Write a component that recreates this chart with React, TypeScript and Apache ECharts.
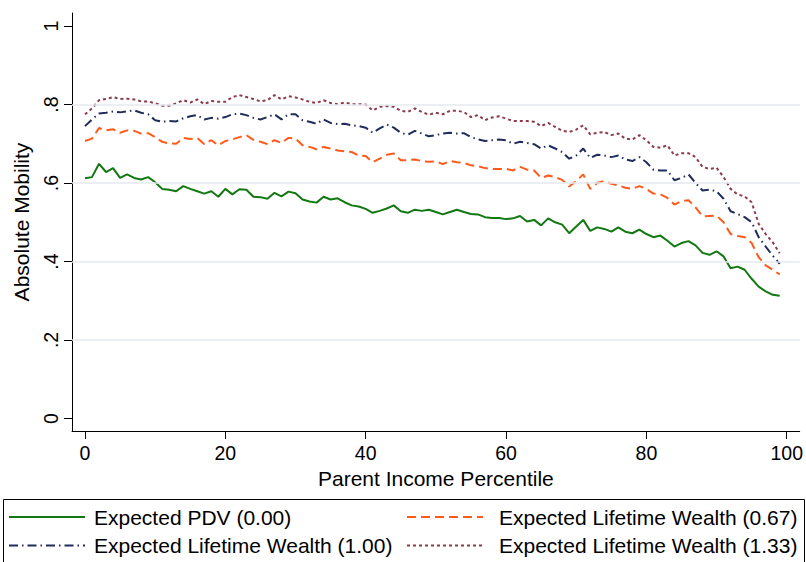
import React, { useEffect, useRef } from "react";
import * as echarts from "echarts";

const percentiles = [
  0, 1, 2, 3, 4, 5, 6, 7, 8, 9, 10, 11, 12, 13, 14, 15, 16, 17, 18, 19,
  20, 21, 22, 23, 24, 25, 26, 27, 28, 29, 30, 31, 32, 33, 34, 35, 36, 37, 38, 39,
  40, 41, 42, 43, 44, 45, 46, 47, 48, 49, 50, 51, 52, 53, 54, 55, 56, 57, 58, 59,
  60, 61, 62, 63, 64, 65, 66, 67, 68, 69, 70, 71, 72, 73, 74, 75, 76, 77, 78, 79,
  80, 81, 82, 83, 84, 85, 86, 87, 88, 89, 90, 91, 92, 93, 94, 95, 96, 97, 98, 99,
];

const pdv000 = [
  0.612, 0.615, 0.649, 0.628, 0.638, 0.613, 0.622, 0.613, 0.609, 0.615,
  0.602, 0.585, 0.583, 0.579, 0.592, 0.585, 0.579, 0.573, 0.579, 0.565,
  0.585, 0.571, 0.584, 0.583, 0.565, 0.564, 0.56, 0.575, 0.566, 0.578,
  0.574, 0.558, 0.553, 0.55, 0.565, 0.558, 0.561, 0.551, 0.543, 0.54,
  0.534, 0.524, 0.529, 0.535, 0.543, 0.528, 0.524, 0.532, 0.529, 0.532,
  0.526, 0.52, 0.526, 0.532, 0.526, 0.521, 0.52, 0.513, 0.511, 0.511,
  0.508, 0.51, 0.516, 0.502, 0.506, 0.492, 0.51, 0.5, 0.494, 0.472,
  0.489, 0.506, 0.478, 0.487, 0.483, 0.476, 0.487, 0.476, 0.472, 0.481,
  0.47, 0.462, 0.466, 0.453, 0.438, 0.447, 0.452, 0.441, 0.422, 0.417,
  0.426, 0.413, 0.383, 0.387, 0.379, 0.356, 0.336, 0.324, 0.315, 0.313,
];

const wealth067 = [
  0.707, 0.713, 0.74, 0.734, 0.737, 0.728, 0.734, 0.733, 0.726, 0.727,
  0.717, 0.705, 0.701, 0.7, 0.715, 0.712, 0.715, 0.699, 0.709, 0.696,
  0.707, 0.711, 0.717, 0.722, 0.71, 0.705, 0.699, 0.709, 0.702, 0.715,
  0.713, 0.696, 0.692, 0.686, 0.692, 0.688, 0.683, 0.681, 0.679, 0.67,
  0.669, 0.653, 0.662, 0.672, 0.675, 0.658, 0.658, 0.66, 0.656, 0.654,
  0.655, 0.648, 0.656, 0.653, 0.651, 0.645, 0.643, 0.638, 0.636, 0.636,
  0.636, 0.632, 0.641, 0.634, 0.632, 0.613, 0.619, 0.615, 0.608, 0.591,
  0.605, 0.622, 0.585, 0.6, 0.605, 0.598, 0.594, 0.588, 0.585, 0.592,
  0.585, 0.573, 0.571, 0.562, 0.545, 0.554, 0.556, 0.538, 0.515, 0.516,
  0.517, 0.5, 0.47, 0.465, 0.462, 0.447, 0.411, 0.39, 0.379, 0.367,
];

const wealth100 = [
  0.745, 0.762, 0.777, 0.779, 0.782, 0.78, 0.783, 0.785, 0.779, 0.775,
  0.76, 0.756, 0.758, 0.757, 0.765, 0.77, 0.773, 0.762, 0.766, 0.764,
  0.768, 0.775, 0.777, 0.773, 0.766, 0.762, 0.768, 0.775, 0.762, 0.775,
  0.775, 0.76, 0.756, 0.751, 0.762, 0.753, 0.75, 0.751, 0.747, 0.745,
  0.741, 0.728, 0.739, 0.749, 0.741, 0.728, 0.723, 0.733, 0.726, 0.719,
  0.722, 0.726, 0.728, 0.726, 0.727, 0.717, 0.711, 0.707, 0.709, 0.711,
  0.709, 0.7, 0.705, 0.702, 0.699, 0.688, 0.696, 0.688, 0.679, 0.662,
  0.67, 0.688, 0.664, 0.672, 0.67, 0.666, 0.67, 0.66, 0.656, 0.666,
  0.653, 0.634, 0.632, 0.632, 0.607, 0.613, 0.622, 0.6, 0.581, 0.583,
  0.579, 0.56, 0.528, 0.521, 0.513, 0.5, 0.462, 0.438, 0.415, 0.394,
];

const wealth133 = [
  0.775, 0.79, 0.811, 0.814, 0.819, 0.814, 0.815, 0.813, 0.808, 0.808,
  0.803, 0.797, 0.797, 0.803, 0.811, 0.805, 0.813, 0.801, 0.809, 0.807,
  0.807, 0.819, 0.824, 0.819, 0.814, 0.808, 0.811, 0.824, 0.813, 0.821,
  0.818, 0.813, 0.807, 0.804, 0.811, 0.804, 0.801, 0.805, 0.801, 0.801,
  0.8, 0.785, 0.794, 0.796, 0.794, 0.784, 0.781, 0.79, 0.781, 0.774,
  0.779, 0.775, 0.784, 0.784, 0.781, 0.768, 0.773, 0.76, 0.767, 0.77,
  0.764, 0.758, 0.758, 0.758, 0.756, 0.745, 0.753, 0.743, 0.733, 0.73,
  0.736, 0.747, 0.724, 0.728, 0.73, 0.722, 0.726, 0.713, 0.711, 0.722,
  0.709, 0.692, 0.69, 0.696, 0.67, 0.676, 0.676, 0.666, 0.641, 0.636,
  0.639, 0.615, 0.585, 0.571, 0.566, 0.551, 0.496, 0.47, 0.449, 0.421,
];

const xTicks = [0, 20, 40, 60, 80, 100];
const yTicks = [0, 0.2, 0.4, 0.6, 0.8, 1];
const yGridLines = [0.2, 0.4, 0.6, 0.8];
const seriesNames = [
  "Expected PDV (0.00)",
  "Expected Lifetime Wealth (0.67)",
  "Expected Lifetime Wealth (1.00)",
  "Expected Lifetime Wealth (1.33)",
];

const FONT = "'Liberation Sans', Arial, Helvetica, sans-serif";

function pairs(values: number[]) {
  return percentiles.map((p, i) => [p, values[i]]);
}

function yLabel(v: number) {
  if (v === 0) return "0";
  if (v === 1) return "1";
  return String(v).replace(/^0\./, ".");
}

function legendItem(name: string, left: number, top: number, textPad: number) {
  return {
    data: [name],
    left,
    top,
    orient: "horizontal",
    itemWidth: 76,
    itemHeight: 19,
    itemGap: 10,
    selectedMode: false,
    itemStyle: { opacity: 0 },
    textStyle: {
      fontSize: 21,
      color: "#000",
      fontFamily: FONT,
      padding: [0, 0, 0, textPad],
    },
  };
}

export default function App() {
  const ref = useRef<HTMLDivElement>(null);

  useEffect(() => {
    if (!ref.current) return;
    const chart = echarts.init(ref.current, null, { renderer: "svg" });
    const lineSeries = (name: string, data: number[], color: string, type: any) => ({
      name,
      type: "line",
      data: pairs(data),
      symbol: "none",
      z: 3,
      lineStyle: { color, width: 2, type },
      itemStyle: { color },
      emphasis: { disabled: true },
    });
    chart.setOption({
      animation: false,
      backgroundColor: "#ffffff",
      textStyle: { fontFamily: FONT },
      grid: { left: 72, right: 6, top: 13, bottom: 131 },
      xAxis: {
        type: "value",
        min: -1.85,
        max: 101.85,
        name: "Parent Income Percentile",
        nameLocation: "middle",
        nameGap: 28,
        nameTextStyle: { fontSize: 21, color: "#000", fontFamily: FONT },
        axisLine: { show: true, onZero: false, lineStyle: { color: "#000", width: 1 } },
        axisTick: { show: true, length: 8, customValues: xTicks, lineStyle: { color: "#000" } },
        axisLabel: { customValues: xTicks, fontSize: 19.5, color: "#000", margin: 12, fontFamily: FONT },
        splitLine: { show: false },
      },
      yAxis: {
        type: "value",
        min: -0.0319,
        max: 1.0332,
        name: "Absolute Mobility",
        nameLocation: "middle",
        nameGap: 40,
        nameTextStyle: { fontSize: 21, color: "#000", fontFamily: FONT },
        axisLine: { show: true, onZero: false, lineStyle: { color: "#000", width: 1 } },
        axisTick: { show: true, length: 8, customValues: yTicks, lineStyle: { color: "#000" } },
        axisLabel: {
          customValues: yTicks,
          rotate: 90,
          fontSize: 19.5,
          color: "#000",
          margin: 11,
          fontFamily: FONT,
          formatter: (v: number) => yLabel(v),
        },
        splitLine: { show: false },
      },
      legend: [
        legendItem(seriesNames[0], 3, 501.5, 4),
        legendItem(seriesNames[1], 401, 501.5, 11),
        legendItem(seriesNames[2], 3, 530, 4),
        legendItem(seriesNames[3], 401, 530, 11),
      ],
      graphic: [
        {
          type: "rect",
          shape: { x: 3.5, y: 499.5, width: 801, height: 90 },
          style: { fill: "none", stroke: "#000", lineWidth: 1 },
          silent: true,
        },
      ],
      series: [
        {
          type: "line",
          data: [],
          z: 1,
          silent: true,
          markLine: {
            silent: true,
            symbol: "none",
            label: { show: false },
            lineStyle: { color: "#e4eaef", width: 1.5, type: "solid" },
            data: yGridLines.map((v) => ({ yAxis: v })),
          },
        },
        lineSeries(seriesNames[0], pdv000, "#127812", "solid"),
        lineSeries(seriesNames[1], wealth067, "#ff5a1a", [9, 5]),
        lineSeries(seriesNames[2], wealth100, "#1f2d5c", [9, 4, 1.5, 4]),
        lineSeries(seriesNames[3], wealth133, "#8c3b4b", [3, 3]),
      ],
    });
    return () => chart.dispose();
  }, []);

  return (
    <div
      ref={ref}
      style={{ position: "fixed", left: 0, top: 0, width: 806, height: 562, background: "#fff" }}
    />
  );
}
